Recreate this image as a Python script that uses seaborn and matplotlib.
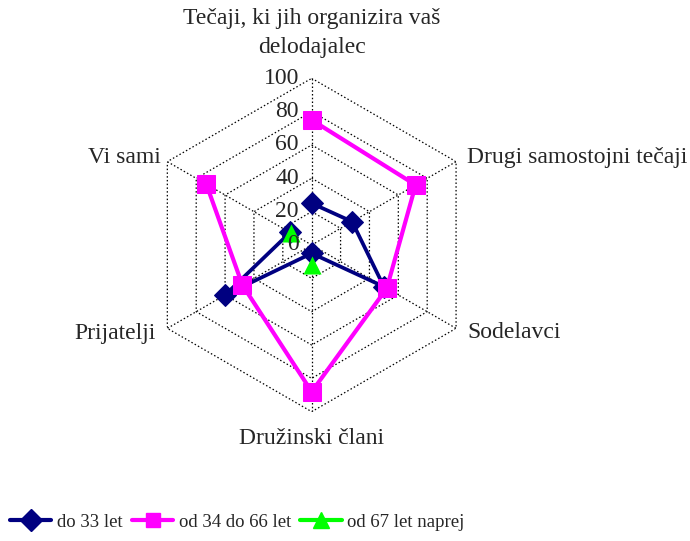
import numpy as np
import pandas as pd
import matplotlib
matplotlib.use("Agg")
import matplotlib.pyplot as plt
from matplotlib.lines import Line2D
import seaborn as sns

categories = [
    "Tečaji, ki jih organizira vaš\ndelodajalec",
    "Drugi samostojni tečaji",
    "Sodelavci",
    "Družinski člani",
    "Prijatelji",
    "Vi sami",
]
series_names = ["do 33 let", "od 34 do 66 let", "od 67 let naprej"]
do_33 = [25, 28, 50, 5, 60, 15]
od_34_do_66 = [75, 72, 52, 88, 48, 73]
od_67 = [np.nan, np.nan, np.nan, 12, np.nan, 14]
ring_ticks = [0, 20, 40, 60, 80, 100]

colors = ["#000080", "#FF00FF", "#00FF00"]
markers = ["D", "s", "^"]
msizes = [11, 13, 13]
lwidths = [2.7, 3.0, 3.0]

sns.set_style("white")
plt.rcParams["font.family"] = ["Liberation Serif", "DejaVu Serif"]

W, H = 690, 541
fig = plt.figure(figsize=(W / 100, H / 100), dpi=100)

cx, cy, R = 311.7, 245.0, 166.7
ax = fig.add_axes([(cx - R) / W, 1 - (cy + R) / H, 2 * R / W, 2 * R / H],
                  projection="polar")
ax.set_theta_offset(np.pi / 2)
ax.set_theta_direction(-1)
ax.set_ylim(0, 100)
ax.grid(False)
ax.set_xticks([])
ax.set_yticks([])
ax.spines["polar"].set_visible(False)
ax.patch.set_alpha(0)

n = len(categories)
theta = np.arange(n) * 2 * np.pi / n
theta_closed = np.append(theta, theta[0])

# hexagonal grid rings and spokes
dots = (0, (1.2, 1.8))
for r in ring_ticks[1:]:
    ax.plot(theta_closed, [r] * (n + 1), color="black", lw=0.9, ls=dots, zorder=1)
for t in theta:
    ax.plot([t, t], [0, 100], color="black", lw=0.9, ls=dots, zorder=1)

# data series
for name, vals, c, m, ms, lw in zip(series_names, [do_33, od_34_do_66, od_67],
                                    colors, markers, msizes, lwidths):
    closed = list(vals) + [vals[0]]
    df = pd.DataFrame({"theta": theta_closed, "value": closed})
    if np.isnan(np.array(vals, dtype=float)).any():
        df = df.dropna()
        sns.scatterplot(data=df, x="theta", y="value", ax=ax, color=c, marker=m,
                        s=ms ** 2, edgecolor=c, linewidth=0, zorder=3,
                        legend=False, clip_on=False)
    else:
        sns.lineplot(data=df, x="theta", y="value", ax=ax, sort=False, color=c,
                     lw=lw, marker=m, markersize=ms, markeredgecolor=c,
                     zorder=3, legend=False, clip_on=False)
ax.set_xlabel("")
ax.set_ylabel("")
ax.set_ylim(0, 100)

fs = 17
fam = ["Liberation Serif", "DejaVu Serif"]
# radial tick labels beside the top spoke
for r in ring_ticks:
    ypx = cy - R * r / 100
    fig.text(299 / W, 1 - ypx / H, str(r), ha="right", va="center",
             fontsize=fs, family=fam)

# category labels
fig.text(cx / W, 1 - 33 / H, categories[0], ha="center", va="center",
         fontsize=fs, linespacing=1.55, family=fam)
fig.text(467 / W, 1 - 158 / H, categories[1], ha="left", va="center",
         fontsize=fs, family=fam)
fig.text(467 / W, 1 - 333 / H, categories[2], ha="left", va="center",
         fontsize=fs, family=fam)
fig.text(cx / W, 1 - 438 / H, categories[3], ha="center", va="center",
         fontsize=fs, family=fam)
fig.text(156 / W, 1 - 333 / H, categories[4], ha="right", va="center",
         fontsize=fs, family=fam)
fig.text(161 / W, 1 - 158 / H, categories[5], ha="right", va="center",
         fontsize=fs, family=fam)

leg_sizes = [11, 10, 11]
handles = [Line2D([], [], color=c, lw=3.0, marker=m, markersize=ms,
                  markeredgecolor=c)
           for c, m, ms in zip(colors, markers, leg_sizes)]
fig.legend(handles, series_names, loc="center left",
           bbox_to_anchor=(10 / W, 1 - 522 / H), ncol=3, frameon=False,
           prop={"family": fam, "size": 13.5}, handlelength=2.2,
           handletextpad=0.3, columnspacing=0.5, borderaxespad=0, borderpad=0)

fig.savefig("out.png", dpi=100)
